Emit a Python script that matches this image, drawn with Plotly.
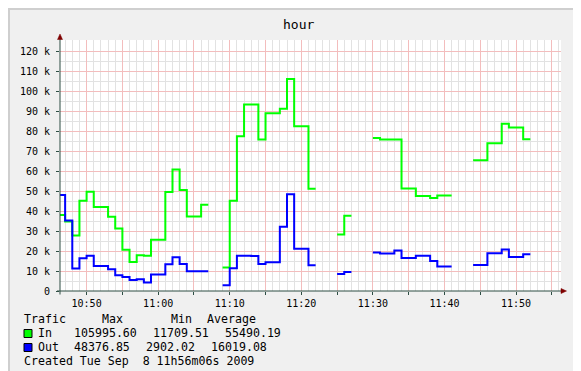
import plotly.graph_objects as go
from datetime import datetime, timedelta

# ---------------- data (bytes/s, one value per minute starting 10:46) ----------------
start_minute = "2009-09-08 10:46"
traffic_in = [38000, 34800, 27800, 45100, 49600, 42000, 42000, 37100, 31300, 20600,
              14500, 17900, 17600, 25600, 25600, 49500, 60700, 50500, 37300, 37300,
              43100, None, None, 11710, 45100, 77400, 93200, 93200, 75700, 88900,
              88900, 91100, 105996, 82400, 82400, 51100, None, None, None, 28300,
              37600, None, None, None, 76500, 75700, 75700, 75700, 51300, 51300,
              47500, 47500, 46500, 47800, 47800, None, None, None, 65400, 65400,
              73900, 73900, 83600, 81700, 81700, 75900]
traffic_out = [48000, 35300, 11200, 16400, 17600, 12500, 12500, 10900, 7900, 7000,
               5500, 5900, 4200, 8200, 8200, 13400, 16900, 13500, 9900, 9900,
               9900, None, None, 2902, 11400, 17600, 17600, 17500, 13500, 14400,
               14400, 32100, 48377, 21100, 21100, 12900, None, None, None, 8500,
               9500, None, None, None, 19200, 18700, 18700, 20300, 16500, 16500,
               17600, 17600, 15000, 12200, 12200, None, None, None, 13000, 13000,
               18900, 18900, 20700, 17000, 17000, 18400]

y_tick_vals = [0, 10000, 20000, 30000, 40000, 50000, 60000, 70000, 80000, 90000,
               100000, 110000, 120000]
y_tick_text = ["0", "10 k", "20 k", "30 k", "40 k", "50 k", "60 k", "70 k", "80 k",
               "90 k", "100 k", "110 k", "120 k"]
x_tick_vals = ["2009-09-08 10:50", "2009-09-08 10:55", "2009-09-08 11:00", "2009-09-08 11:05",
               "2009-09-08 11:10", "2009-09-08 11:15", "2009-09-08 11:20", "2009-09-08 11:25",
               "2009-09-08 11:30", "2009-09-08 11:35", "2009-09-08 11:40", "2009-09-08 11:45",
               "2009-09-08 11:50", "2009-09-08 11:55"]
x_tick_text = ["10:50", "", "11:00", "", "11:10", "", "11:20", "", "11:30", "",
               "11:40", "", "11:50", ""]
x_range = ["2009-09-08 10:46:17", "2009-09-08 11:56:17"]
y_range = [0, 125500]

legend_rows = [
    ["Trafic", "Max", "Min", "Average"],
    ["In", "105995.60", "11709.51", "55490.19"],
    ["Out", "48376.85", "2902.02", "16019.08"],
]
created_text = "Created Tue Sep\u00a0\u00a08 11h56m06s 2009"

# ---------------- geometry helpers ----------------
FW, FH = 581, 371
L, R, T, B = 52, 28, 32, 88
W = FW - L - R
H = FH - T - B


def px(x):
    return (x - L) / W


def py(y):
    return (T + H - y) / H


t0 = datetime.strptime(start_minute, "%Y-%m-%d %H:%M")
times = [t0 + timedelta(minutes=i) for i in range(len(traffic_in))]


def steps(values):
    xs, ys = [], []
    n = len(values)
    for i, v in enumerate(values):
        if v is None:
            continue
        xs.append(times[i]); ys.append(v)
        if i == n - 1 or values[i + 1] is None:
            te = times[i] + timedelta(minutes=1)
            xs.append(te); ys.append(v)
            xs.append(te); ys.append(None)
    return xs, ys


GREEN = "#00FF00"
BLUE = "#0000FF"
AXIS = "#2C4D43"
ARROW = "#7F0000"
MONO = "DejaVu Sans Mono"
MAJOR_GRID = "#F3BDBD"
MINOR_GRID = "#E2E2E2"

fig = go.Figure()
xi, yi = steps(traffic_in)
xo, yo = steps(traffic_out)
fig.add_trace(go.Scatter(x=xi, y=yi, mode="lines", line=dict(color=GREEN, width=2, shape="hv"),
                         connectgaps=False, hoverinfo="skip", name="In"))
fig.add_trace(go.Scatter(x=xo, y=yo, mode="lines", line=dict(color=BLUE, width=2, shape="hv"),
                         connectgaps=False, hoverinfo="skip", name="Out"))

fig.update_layout(
    width=FW, height=FH,
    margin=dict(l=L, r=R, t=T, b=B, pad=0),
    paper_bgcolor="#F0F0F0",
    plot_bgcolor="#FFFFFF",
    showlegend=False,
    xaxis=dict(
        type="date", range=x_range, tickmode="array", tickvals=x_tick_vals, ticktext=x_tick_text,
        showgrid=True, gridcolor=MAJOR_GRID, gridwidth=1,
        minor=dict(dtick=60000, tick0="2009-09-08 10:00", showgrid=True,
                   gridcolor=MINOR_GRID, gridwidth=1, ticks=""),
        ticks="outside", ticklen=3, tickcolor=AXIS, tickwidth=1,
        tickfont=dict(family=MONO, size=10, color="#000000"),
        showline=False, zeroline=False, fixedrange=True,
    ),
    yaxis=dict(
        range=y_range, tickmode="array", tickvals=y_tick_vals, ticktext=y_tick_text,
        showgrid=True, gridcolor=MAJOR_GRID, gridwidth=1,
        minor=dict(dtick=5000, tick0=0, showgrid=True,
                   gridcolor=MINOR_GRID, gridwidth=1, ticks=""),
        ticks="outside", ticklen=3, tickcolor=AXIS, tickwidth=1,
        ticklabelstandoff=4,
        tickfont=dict(family=MONO, size=10, color="#000000"),
        showline=False, zeroline=False, fixedrange=True,
    ),
)

shapes = []
# 3D frame of the image
shapes.append(dict(type="rect", xref="paper", yref="paper", x0=px(0), x1=px(FW), y0=py(0), y1=py(2),
                   fillcolor="#CFCFCF", line=dict(width=0), layer="above"))
shapes.append(dict(type="rect", xref="paper", yref="paper", x0=px(0), x1=px(2), y0=py(0), y1=py(FH),
                   fillcolor="#CFCFCF", line=dict(width=0), layer="above"))
shapes.append(dict(type="rect", xref="paper", yref="paper", x0=px(FW - 3), x1=px(FW), y0=py(0), y1=py(FH),
                   fillcolor="#9B9B9B", line=dict(width=0), layer="above"))
shapes.append(dict(type="rect", xref="paper", yref="paper", x0=px(0), x1=px(FW), y0=py(FH - 3), y1=py(FH),
                   fillcolor="#9B9B9B", line=dict(width=0), layer="above"))
# axis lines
shapes.append(dict(type="line", xref="paper", yref="paper", x0=px(49), x1=px(555), y0=py(283), y1=py(283),
                   line=dict(color=AXIS, width=1), layer="above"))
shapes.append(dict(type="line", xref="paper", yref="paper", x0=px(52), x1=px(52), y0=py(286.5), y1=py(29),
                   line=dict(color=AXIS, width=1), layer="above"))
# arrow heads
shapes.append(dict(type="path", xref="paper", yref="paper",
                   path=f"M {px(553)} {py(280.5)} L {px(558.5)} {py(283)} L {px(553)} {py(285.5)} Z",
                   fillcolor=ARROW, line=dict(color=ARROW, width=0.5), layer="above"))
shapes.append(dict(type="path", xref="paper", yref="paper",
                   path=f"M {px(49.5)} {py(31.5)} L {px(52)} {py(26)} L {px(54.5)} {py(31.5)} Z",
                   fillcolor=ARROW, line=dict(color=ARROW, width=0.5), layer="above"))
# legend colour boxes
shapes.append(dict(type="rect", xref="paper", yref="paper", x0=px(16), x1=px(24), y0=py(321.5), y1=py(329.5),
                   fillcolor=GREEN, line=dict(color="#000000", width=1), layer="above"))
shapes.append(dict(type="rect", xref="paper", yref="paper", x0=px(16), x1=px(24), y0=py(335.5), y1=py(343.5),
                   fillcolor=BLUE, line=dict(color="#000000", width=1), layer="above"))
fig.update_layout(shapes=shapes)

ann = []


def text(x, y, s, size=11.6, color="#000000", anchor="left", angle=0, family=MONO):
    ann.append(dict(xref="paper", yref="paper", x=px(x), y=py(y), text=s, showarrow=False,
                    xanchor=anchor, yanchor="middle", textangle=angle,
                    font=dict(family=family, size=size, color=color),
                    borderpad=0, borderwidth=0))


text(290.5, 16.5, "hour", size=13, anchor="center")
text(570, 62.5, "RRDTOOL / TOBI OETIKER", size=8.2, color="#A8A8A8", anchor="center", angle=90)

col_x = [
    [15.5, 93.8, 163.2, 198.5],
    [30.2, 65.5, 144.5, 216.8],
    [30.2, 66.2, 138.2, 202.8],
]
row_y = [311, 325, 339]
for r, row in enumerate(legend_rows):
    for c, s in enumerate(row):
        text(col_x[r][c], row_y[r], s)
text(15.5, 353, created_text)

fig.update_layout(annotations=ann)
fig.write_html("out.html")
